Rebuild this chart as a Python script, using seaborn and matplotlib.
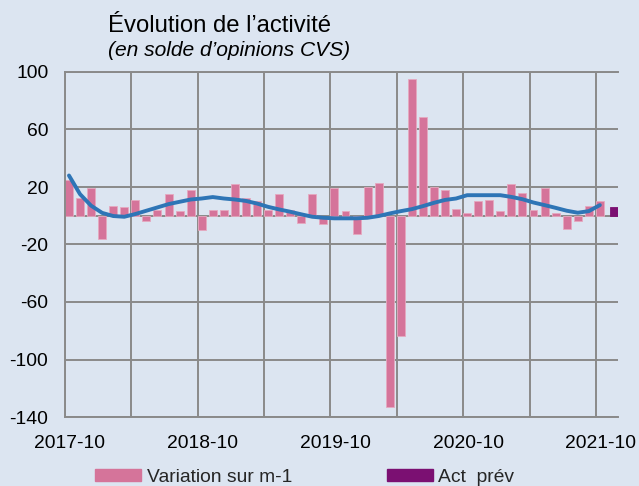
import numpy as np
import pandas as pd
import matplotlib
matplotlib.use("Agg")
import matplotlib.pyplot as plt
from matplotlib.patches import Patch
import seaborn as sns

# ---- data ----
months = list(pd.period_range("2017-10", "2021-10", freq="M").strftime("%Y-%m"))
variation = [25, 12, 19, -16, 7, 6, 11, -4, 4, 15, 3, 18,
             -10, 4, 4, 22, 12, 10, 4, 15, 4, -5, 15, -6,
             19, 3, -13, 20, 23, -133, -84, 95, 69, 20, 18, 5,
             2, 10, 11, 3, 22, 16, 4, 19, 2, -9, -4, 7, 10]
trend = [28, 15, 7, 2, -0.2, -0.7, 1.2, 3.5, 5.8, 8.1, 9.7, 11.3,
         12, 13, 12, 11.3, 10.3, 8.5, 6.2, 4.4, 2.8, 1, -0.7, -1.4,
         -1.8, -1.8, -1.8, -1.4, -0.2, 1.6, 3.2, 4.6, 6.7, 9, 11, 12,
         14.3, 14.3, 14.3, 14.3, 13.1, 11.5, 9.2, 7.4, 5.5, 3.5, 2.1, 3.2, 7.4]
act_prev_month = "2021-11"
act_prev = [6]
tick_labels = ["2017-10", "2018-10", "2019-10", "2020-10", "2021-10"]
yticks = [100, 60, 20, -20, -60, -100, -140]

# ---- style ----
BG = "#dce5f1"
PINK = "#d5749a"
PURPLE = "#7b1072"
BLUE = "#2e75b6"
GRID = "#8a8a8a"

sns.set_theme(style="white")
plt.rcParams["font.family"] = ["Liberation Sans", "DejaVu Sans"]

fig = plt.figure(figsize=(6.39, 4.86), dpi=100, facecolor=BG)
ax = fig.add_axes([65 / 639, 1 - 417 / 486, (618 - 65) / 639, (417 - 72) / 486])
ax.set_facecolor(BG)

n = len(months)
idx = np.arange(n)
df = pd.DataFrame({
    "x": list(idx + 0.36) + [n + 0.64],
    "val": variation + act_prev,
    "serie": ["Variation sur m-1"] * n + ["Act  prév"],
})
sns.barplot(data=df, x="x", y="val", hue="serie", native_scale=True, dodge=False,
            width=0.72, palette={"Variation sur m-1": PINK, "Act  prév": PURPLE},
            saturation=1, errorbar=None, edgecolor="#e6a9c0", linewidth=0.6,
            legend=False, ax=ax, zorder=2)
# purple has no light edge
for p in ax.patches[n:]:
    p.set_edgecolor(PURPLE)

sns.lineplot(x=idx + 0.36, y=trend, color=BLUE, linewidth=2.8, ax=ax, zorder=3)

ax.set_xlim(0, 50)
ax.set_ylim(-140, 100)
ax.set_yticks(yticks)
ax.set_yticklabels([str(v) for v in yticks])
ax.set_xticks(np.arange(0, 49, 6))
ax.set_xticklabels([])
tick_pos = [months.index(t) + 0.45 for t in tick_labels]
ax.set_xticks(tick_pos, minor=True)
ax.set_xticklabels(tick_labels, minor=True)
ax.tick_params(axis="x", which="both", length=0, pad=13, labelsize=13.9, colors="black")
ax.tick_params(axis="y", length=0, pad=12, labelsize=13.9, colors="black")
ax.set_xlabel("")
ax.set_ylabel("")

ax.grid(True, which="major", color=GRID, linewidth=1.4, zorder=0)
ax.set_axisbelow(True)
ax.axhline(0, color=GRID, linewidth=1.4, zorder=1)
for s in ["left", "bottom", "top"]:
    ax.spines[s].set_visible(True)
    ax.spines[s].set_color(GRID)
    ax.spines[s].set_linewidth(1.4)
ax.spines["right"].set_visible(False)

fig.text(108 / 639, 1 - 32 / 486, "Évolution de l\u2019activité", fontsize=17.2,
         va="baseline", ha="left", color="black")
fig.text(108 / 639, 1 - 56 / 486, "(en solde d\u2019opinions CVS)", fontsize=15.1,
         style="italic", va="baseline", ha="left", color="black")

handles = [Patch(facecolor=PINK, edgecolor=PINK), Patch(facecolor=PURPLE, edgecolor=PURPLE)]
fig.legend(handles, ["Variation sur m-1", "Act  prév"], ncol=2, frameon=False,
           loc="center left", bbox_to_anchor=(95 / 639, 1 - 477 / 486),
           borderpad=0, borderaxespad=0, fontsize=13.9, handlelength=2.4,
           handleheight=0.6, handletextpad=0.28, columnspacing=4.9)

fig.savefig("out.png", dpi=100, facecolor=BG)
